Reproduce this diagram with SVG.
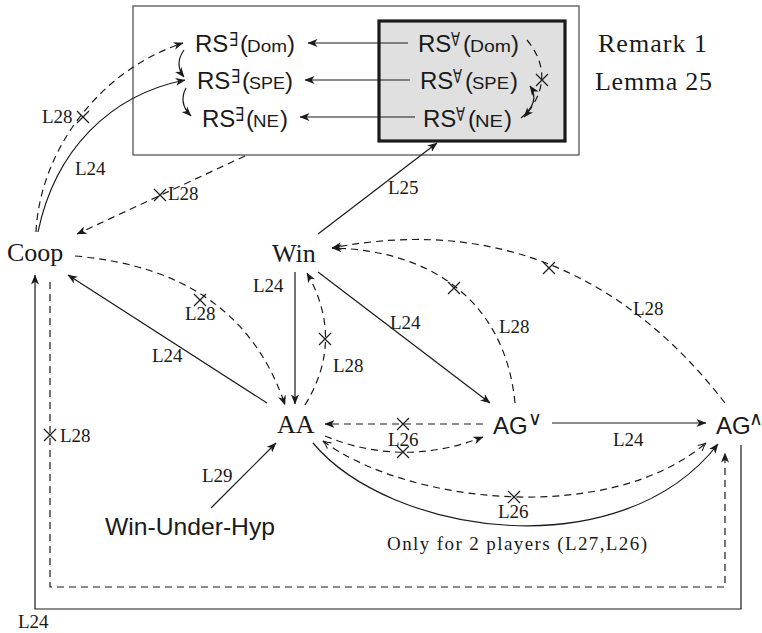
<svg xmlns="http://www.w3.org/2000/svg" width="762" height="633" viewBox="0 0 762 633">
  <style>
    .serif { font-family: "Liberation Serif", "Times New Roman", serif; fill: #1a1a1a; }
    .sans { font-family: "Liberation Sans", "DejaVu Sans", Arial, sans-serif; fill: #1a1a1a; }
    .node { font-size: 26px; }
    .lbl { font-size: 19px; }
    .big { font-size: 24px; }
    .sub { font-size: 17px; }
    .sup { font-family: "DejaVu Sans", sans-serif; font-size: 19px; }
    .edge { fill: none; stroke: #1a1a1a; stroke-width: 1.2; }
    .dash { stroke-dasharray: 7 5; }
    .cross { stroke: #1a1a1a; stroke-width: 1.2; }
  </style>
  <defs>
    <marker id="stealth" viewBox="0 0 10 8" refX="9.5" refY="4" markerWidth="10" markerHeight="8" markerUnits="userSpaceOnUse" orient="auto">
      <path d="M0,0 L10,4 L0,8 L2.8,4 z" fill="#1a1a1a"/>
    </marker>
    <marker id="open" viewBox="0 0 10 10" refX="9" refY="5" markerWidth="10" markerHeight="10" markerUnits="userSpaceOnUse" orient="auto-start-reverse">
      <path d="M1,1.5 Q5,4 9,5 Q5,6 1,8.5" fill="none" stroke="#1a1a1a" stroke-width="1.1"/>
    </marker>
    <path id="x" d="M-6,-6 L6,6 M-6,6 L6,-6"/>
  </defs>

  <rect width="762" height="633" fill="#ffffff"/>

  <!-- result-statement frame -->
  <g id="frame">
    <rect x="133" y="6" width="446" height="149" fill="none" stroke="#555" stroke-width="1.3"/>
    <rect x="379" y="21" width="186" height="120" fill="#e0e0e0" stroke="#1a1a1a" stroke-width="3.2"/>
  </g>

  <g id="connectors">
    <!-- inside frame -->
    <path class="edge" d="M408 43 L308 43" marker-end="url(#stealth)"/>
    <path class="edge" d="M410 80 L305 80" marker-end="url(#stealth)"/>
    <path class="edge" d="M415 117 L300 117" marker-end="url(#stealth)"/>
    <path class="edge" d="M184 50 Q174 64 184 77" marker-end="url(#stealth)"/>
    <path class="edge" d="M186 88 Q178 103 191 116" marker-end="url(#stealth)"/>
    <path class="edge dash" d="M527 40 Q558 78 524 117" marker-end="url(#stealth)"/>
    <use href="#x" class="cross" x="542" y="80"/>
    <path class="edge" d="M521 118 Q541 102 530 86" marker-end="url(#stealth)"/>

    <!-- Coop to frame -->
    <path class="edge" d="M38 232 C55 150 110 95 185 80" marker-end="url(#stealth)"/>
    <path class="edge dash" d="M36 232 C40 150 100 70 183 43" marker-end="url(#stealth)"/>
    <use href="#x" class="cross" x="83" y="117"/>
    <path class="edge dash" d="M245 156 L77 234" marker-end="url(#stealth)"/>
    <use href="#x" class="cross" x="160" y="195"/>

    <!-- Win to frame -->
    <path class="edge" d="M318 234 L437 143" marker-end="url(#stealth)"/>

    <!-- Coop / AA -->
    <path class="edge dash" d="M75 256 Q240 270 285 405" marker-end="url(#stealth)"/>
    <use href="#x" class="cross" x="200" y="300"/>
    <path class="edge" d="M267 403 L68 275" marker-end="url(#stealth)"/>

    <!-- Win / AA -->
    <path class="edge" d="M295 272 L295 404" marker-end="url(#stealth)"/>
    <path class="edge dash" d="M305 405 Q345 340 307 273" marker-end="url(#stealth)"/>
    <use href="#x" class="cross" x="325" y="339"/>

    <!-- Win / AG -->
    <path class="edge" d="M318 272 L490 403" marker-end="url(#stealth)"/>
    <path class="edge dash" d="M515 403 C505 300 430 250 332 248" marker-end="url(#stealth)"/>
    <use href="#x" class="cross" x="454" y="288"/>
    <path class="edge dash" d="M725 403 C630 280 500 215 332 248" marker-end="url(#stealth)"/>
    <use href="#x" class="cross" x="549" y="268"/>

    <!-- AA / AG -->
    <path class="edge dash" d="M483 424 L325 424" marker-end="url(#stealth)"/>
    <use href="#x" class="cross" x="403" y="424"/>
    <path class="edge dash" d="M325 436 Q403 468 483 437" marker-end="url(#stealth)"/>
    <use href="#x" class="cross" x="403" y="452"/>
    <path class="edge dash" d="M323 441 C410 505 610 525 706 443" marker-start="url(#open)" marker-end="url(#open)"/>
    <use href="#x" class="cross" x="514" y="497"/>
    <path class="edge" d="M313 443 C390 535 620 570 718 444" marker-end="url(#stealth)"/>
    <path class="edge" d="M552 423 L706 423" marker-end="url(#stealth)"/>

    <!-- Win-Under-Hyp to AA -->
    <path class="edge" d="M211 508 L276 443" marker-end="url(#stealth)"/>

    <!-- outer loops -->
    <path class="edge" d="M741 445 L741 609 L35 609 L35 275" marker-end="url(#stealth)"/>
    <path class="edge dash" d="M50 282 L50 587 L725 587 L725 453" marker-end="url(#stealth)"/>
    <use href="#x" class="cross" x="50" y="435"/>
  </g>

  <!-- connector labels -->
  <g id="labels" class="serif lbl">
    <text x="42" y="123">L28</text>
    <text x="75" y="175">L24</text>
    <text x="168" y="200">L28</text>
    <text x="388" y="194">L25</text>
    <text x="253" y="292">L24</text>
    <text x="390" y="329">L24</text>
    <text x="333" y="372">L28</text>
    <text x="499" y="333">L28</text>
    <text x="633" y="315">L28</text>
    <text x="185" y="320">L28</text>
    <text x="152" y="362">L24</text>
    <text x="60" y="442">L28</text>
    <text x="202" y="482">L29</text>
    <text x="18" y="628">L24</text>
    <text x="388" y="446">L26</text>
    <text x="613" y="446">L24</text>
    <text x="498" y="518">L26</text>
    <text x="387" y="550" textLength="260" lengthAdjust="spacing">Only for 2 players (L27,L26)</text>
  </g>

  <!-- frame captions -->
  <g id="captions" class="serif node">
    <text x="598" y="52" textLength="109" lengthAdjust="spacing">Remark 1</text>
    <text x="595" y="90" textLength="117" lengthAdjust="spacing">Lemma 25</text>
  </g>

  <!-- existential statements -->
  <g id="rs-exists-dom"><text class="sans big" x="195" y="52">RS<tspan class="sup" x="229" y="46" textLength="9" lengthAdjust="spacingAndGlyphs">∃</tspan><tspan x="240" y="52">(</tspan><tspan class="sub" x="247" textLength="40" lengthAdjust="spacingAndGlyphs">Dom</tspan><tspan x="287">)</tspan></text></g>
  <g id="rs-exists-spe"><text class="sans big" x="197" y="89">RS<tspan class="sup" x="231" y="83" textLength="9" lengthAdjust="spacingAndGlyphs">∃</tspan><tspan x="242" y="89">(</tspan><tspan class="sub" x="249" textLength="36" lengthAdjust="spacingAndGlyphs">SPE</tspan><tspan x="285">)</tspan></text></g>
  <g id="rs-exists-ne"><text class="sans big" x="202" y="127">RS<tspan class="sup" x="235" y="121" textLength="9" lengthAdjust="spacingAndGlyphs">∃</tspan><tspan x="246" y="127">(</tspan><tspan class="sub" x="253" textLength="26" lengthAdjust="spacingAndGlyphs">NE</tspan><tspan x="280">)</tspan></text></g>

  <!-- universal statements -->
  <g id="rs-forall-dom"><text class="sans big" x="418" y="52">RS<tspan class="sup" x="451" y="46" textLength="9" lengthAdjust="spacingAndGlyphs">∀</tspan><tspan x="463" y="52">(</tspan><tspan class="sub" x="470" textLength="41" lengthAdjust="spacingAndGlyphs">Dom</tspan><tspan x="511">)</tspan></text></g>
  <g id="rs-forall-spe"><text class="sans big" x="420" y="89">RS<tspan class="sup" x="453" y="83" textLength="9" lengthAdjust="spacingAndGlyphs">∀</tspan><tspan x="465" y="89">(</tspan><tspan class="sub" x="472" textLength="37" lengthAdjust="spacingAndGlyphs">SPE</tspan><tspan x="510">)</tspan></text></g>
  <g id="rs-forall-ne"><text class="sans big" x="423" y="127">RS<tspan class="sup" x="456" y="121" textLength="9" lengthAdjust="spacingAndGlyphs">∀</tspan><tspan x="468" y="127">(</tspan><tspan class="sub" x="475" textLength="28" lengthAdjust="spacingAndGlyphs">NE</tspan><tspan x="504">)</tspan></text></g>

  <!-- main nodes -->
  <g id="coop"><text class="serif node" x="7" y="261">Coop</text></g>
  <g id="win"><text class="serif node" x="272" y="262">Win</text></g>
  <g id="aa"><text class="serif node" x="277" y="433">AA</text></g>
  <g id="ag-or"><text class="sans big" x="493" y="434">AG<tspan class="sup" x="528" y="425">∨</tspan></text></g>
  <g id="ag-and"><text class="sans big" x="716" y="434">AG<tspan class="sup" x="749" y="425">∧</tspan></text></g>
  <g id="win-under-hyp"><text class="sans big" x="105" y="535" textLength="170" lengthAdjust="spacingAndGlyphs">Win-Under-Hyp</text></g>
</svg>
